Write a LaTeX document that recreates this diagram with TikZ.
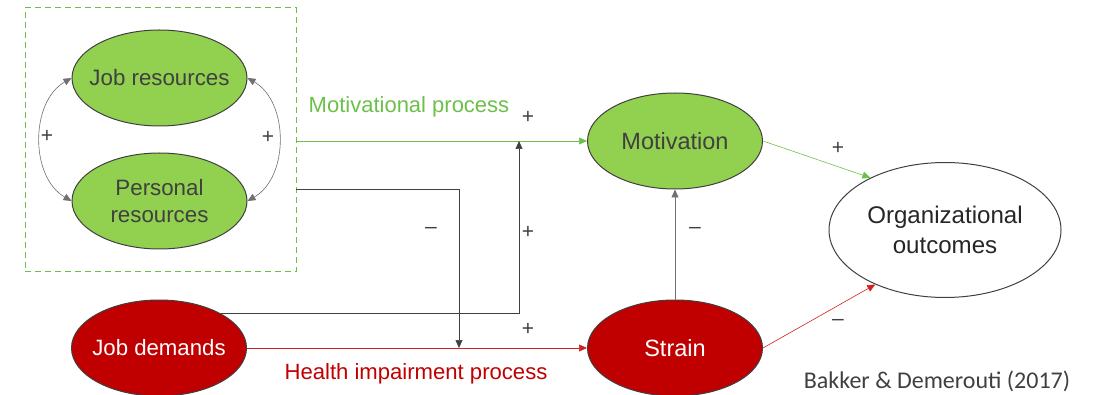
\documentclass[tikz,border=0pt]{standalone}
\usepackage{fontspec}
\setmainfont{Liberation Sans}
\newfontfamily\citefont{Carlito}
\usetikzlibrary{arrows.meta,shapes.geometric}
\definecolor{gfill}{HTML}{92D050}
\definecolor{rfill}{HTML}{C00000}
\definecolor{gline}{HTML}{6CC04A}
\definecolor{rline}{HTML}{D42020}
\definecolor{dgray}{HTML}{404040}
\definecolor{lgray}{HTML}{707070}
\tikzset{
  oval/.style={ellipse, draw=dgray, line width=1pt, inner sep=0pt, minimum width=175pt, minimum height=96pt},
  greenoval/.style={oval, fill=gfill},
  redoval/.style={oval, fill=rfill},
  ovaltext/.style={align=center, inner sep=0pt},
  arr/.style={-{Triangle[length=8pt,width=7pt]}, line width=0.6pt},
  darr/.style={{Triangle[length=8pt,width=7pt]}-{Triangle[length=8pt,width=7pt]}, line width=0.6pt, draw=lgray},
  sign/.style={text=dgray, font=\fontsize{21}{22}\selectfont, inner sep=0pt},
}
\begin{document}
\begin{tikzpicture}[x=1pt,y=-1pt]
\useasboundingbox (0,0) rectangle (1097,395);
% dashed resources box
\node[draw=gline, dashed, dash pattern=on 6pt off 4pt, line width=1pt, minimum width=271pt, minimum height=264pt, inner sep=0pt] (box) at (160.5,140) {};
% nodes
\node[greenoval] (jr) at (159.5,78) {};
\node[ovaltext, text=dgray, font=\fontsize{22.3}{26}\selectfont] (jrt) at (jr) {Job resources};
\node[greenoval] (pr) at (159.5,201) {};
\node[ovaltext, text=dgray, font=\fontsize{22.3}{27}\selectfont] (prt) at (pr) {Personal\\resources};
\node[redoval] (jd) at (159,348) {};
\node[ovaltext, text=white, font=\fontsize{22.2}{26}\selectfont] (jdt) at (jd) {Job demands};
\node[greenoval] (mot) at (675,141) {};
\node[ovaltext, text=dgray, font=\fontsize{23.5}{26}\selectfont] (mott) at (mot) {Motivation};
\node[redoval] (str) at (675,348) {};
\node[ovaltext, text=white, font=\fontsize{23.5}{26}\selectfont] (strt) at (str) {Strain};
\node[oval, fill=white, minimum width=232pt, minimum height=135pt] (org) at (945,230) {};
\node[ovaltext, text=black!85, font=\fontsize{24.1}{30}\selectfont] (orgt) at (org) {Organizational\\outcomes};
% junction coordinates
\coordinate (j1) at (519,141);
\coordinate (j2) at (459,348);
\coordinate (b1) at (296,141);
\coordinate (b2) at (296,189);
% curved double arrows
\draw[darr] (jr.west) to[out=210,in=150] (pr.west);
\draw[darr] (jr.east) to[out=-30,in=30] (pr.east);
% process lines
\draw[arr, draw=gline] (b1) -- (mot.west);
\draw[arr, draw=rline] (jd.east) -- (str.west);
\draw[arr, draw=dgray] (b2) -| (j2);
\draw[arr, draw=dgray] (jd.30) -| (j1);
\draw[arr, draw=lgray] (str.north) -- (mot.south);
\draw[arr, draw=gline] (mot.east) -- (org.145);
\draw[arr, draw=rline] (str.east) -- (org.218);
% labels
\node[text=gline, font=\fontsize{22}{24}\selectfont, inner sep=0pt] (lmot) at (409,107) {Motivational process};
\node[text=rfill, font=\fontsize{22.1}{24}\selectfont, inner sep=0pt] (lhealth) at (416,374) {Health impairment process};
\node[text=dgray, font=\citefont\fontsize{24}{26}\selectfont, inner sep=0pt] (cite) at (937,381) {Bakker \& Demerouti (2017)};
% signs
\node[sign] (s1) at (47,136) {+};
\node[sign] (s2) at (268,137) {+};
\node[sign] (s3) at (528,117) {+};
\node[sign] (s4) at (431,230) {–};
\node[sign] (s5) at (528,232) {+};
\node[sign] (s6) at (528,329) {+};
\node[sign] (s7) at (695,230) {–};
\node[sign] (s8) at (838,148) {+};
\node[sign] (s9) at (838,322) {–};
\end{tikzpicture}
\end{document}
